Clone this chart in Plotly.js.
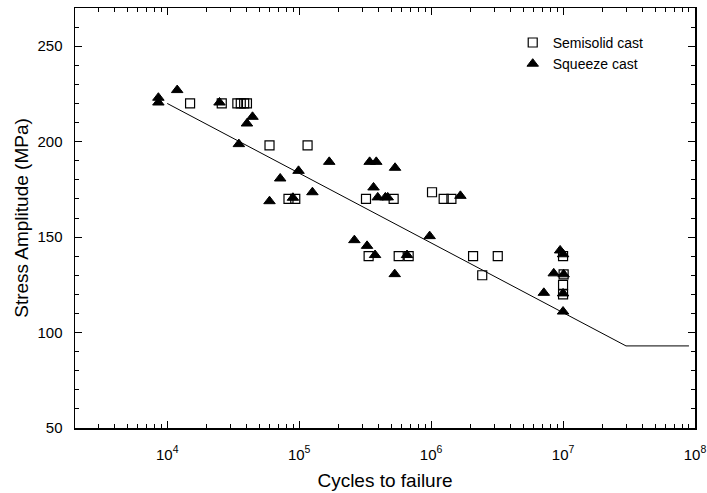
<!DOCTYPE html>
<html>
<head>
<meta charset="utf-8">
<script src="https://cdn.plot.ly/plotly-3.0.1.min.js"></script>
<style>html,body{margin:0;padding:0;background:#fff;}#chart{width:707px;height:493px;}</style>
</head>
<body>
<div id="chart"></div>
<script>
// Semisolid cast (open squares)
const semisolidCycles = [14900, 25900, 34000, 36100, 38300, 40200, 59600, 115800, 83000, 93400,
  321000, 520000, 1016000, 1245000, 1425000, 336000, 568000, 676000, 2080000, 3200000,
  2440000, 10000000, 10100000, 10000000, 10000000];
const semisolidStress = [220, 220, 220, 220, 220, 220, 198, 198, 170, 170,
  170, 170, 173.5, 170, 170, 140, 140, 140, 140, 140,
  130, 140, 130.5, 125, 120];

// Squeeze cast (filled triangles)
const squeezeCycles = [8570, 8570, 11900, 24900, 44300, 40200, 34900, 98900, 71800, 126000,
  59600, 89700, 169000, 342000, 384000, 533000, 366000, 394000, 450000, 469000,
  1667000, 975000, 262000, 327000, 376000, 657000, 530000, 9500000, 10000000, 8500000,
  7150000, 10000000, 10100000, 10000000];
const squeezeStress = [223, 220.5, 227, 220.5, 213, 209.5, 198.7, 184.7, 180.7, 173.5,
  168.8, 170.6, 189.4, 189.4, 189.4, 186.3, 176, 170.8, 170.8, 170.8,
  171.6, 150.5, 148.4, 145.4, 140.6, 140.6, 130.6, 143, 141, 131,
  120.8, 111, 130.5, 120.5];

// Fitted S-N curve
const fitCycles = [10000, 30000000, 90000000];
const fitStress = [220, 93, 93];

// Axis ticks
const xTickVals = [1e4, 1e5, 1e6, 1e7, 1e8];
const xTickText = ['10<sup>4</sup>', '10<sup>5</sup>', '10<sup>6</sup>', '10<sup>7</sup>', '10<sup>8</sup>'];
const yTickVals = [50, 100, 150, 200, 250];
const yTickText = ['50', '100', '150', '200', '250'];

const FONT = '"Liberation Sans", Arial, Helvetica, sans-serif';

const traces = [
  {
    x: fitCycles, y: fitStress, type: 'scatter', mode: 'lines',
    line: {color: 'black', width: 1}, showlegend: false, hoverinfo: 'skip'
  },
  {
    x: semisolidCycles, y: semisolidStress, type: 'scatter', mode: 'markers',
    name: 'Semisolid cast',
    marker: {symbol: 'square-open', size: 9, color: 'black', line: {color: 'black', width: 1.2}}
  },
  {
    x: squeezeCycles, y: squeezeStress, type: 'scatter', mode: 'markers',
    name: 'Squeeze cast',
    marker: {symbol: 'triangle-up', size: 10, color: 'black', line: {color: 'black', width: 1}}
  }
];

const layout = {
  width: 707, height: 493,
  margin: {l: 75, r: 12, t: 8, b: 65},
  paper_bgcolor: 'white', plot_bgcolor: 'white',
  font: {family: FONT, color: 'black', size: 15},
  showlegend: true,
  legend: {
    x: 0.706, y: 0.955, xanchor: 'left', yanchor: 'top',
    bgcolor: 'rgba(0,0,0,0)', borderwidth: 0,
    font: {family: FONT, size: 14, color: 'black'},
    tracegroupgap: 0
  },
  xaxis: {
    type: 'log',
    range: [Math.log10(2000), 8],
    tickmode: 'array', tickvals: xTickVals, ticktext: xTickText,
    ticks: 'inside', ticklen: 7, tickwidth: 1, tickcolor: 'black',
    minor: {tickmode: 'linear', dtick: 'D1', ticks: 'inside', ticklen: 4, tickwidth: 1, tickcolor: 'black', showgrid: false},
    showline: true, linecolor: 'black', linewidth: 1.5, mirror: 'allticks',
    showgrid: false, zeroline: false,
    tickfont: {family: FONT, size: 15, color: 'black'},
    ticklabelstandoff: 12,
    title: {text: 'Cycles to failure', font: {family: FONT, size: 19, color: 'black'}, standoff: 12}
  },
  yaxis: {
    range: [50, 270],
    tickmode: 'array', tickvals: yTickVals, ticktext: yTickText,
    ticks: 'inside', ticklen: 7, tickwidth: 1, tickcolor: 'black',
    minor: {tickmode: 'linear', tick0: 50, dtick: 10, ticks: 'inside', ticklen: 4, tickwidth: 1, tickcolor: 'black', showgrid: false},
    showline: true, linecolor: 'black', linewidth: 1.5, mirror: 'allticks',
    showgrid: false, zeroline: false,
    tickfont: {family: FONT, size: 15, color: 'black'},
    ticklabelstandoff: 8,
    title: {text: 'Stress Amplitude (MPa)', font: {family: FONT, size: 19, color: 'black'}, standoff: 4}
  }
};

Plotly.newPlot('chart', traces, layout, {displayModeBar: false, staticPlot: true});
</script>
</body>
</html>
